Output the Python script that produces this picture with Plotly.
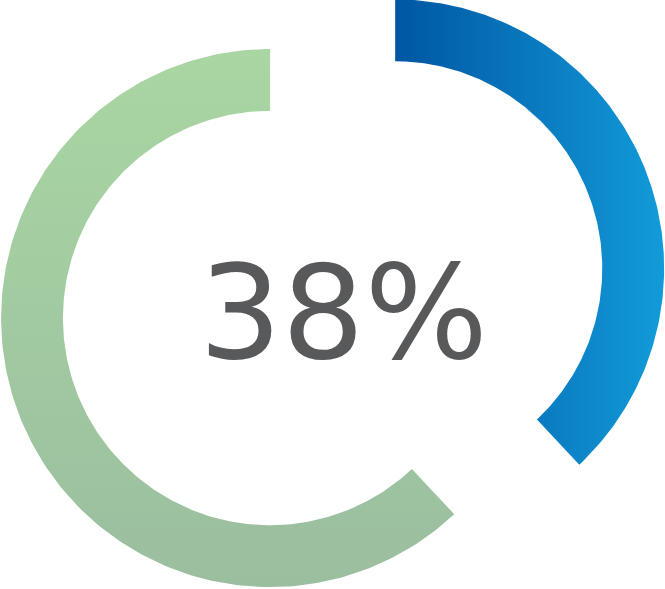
import numpy as np
import plotly.graph_objects as go

# share of the ring, clockwise from 12 o'clock
labels = ["highlight", "rest"]
values = [38, 62]
pull = [0.5, 0.0]
center_text = "38%"

HOLE = 0.77
GRADIENTS = [
    dict(type="horizontal", colorscale=[[0, "#0056a3"], [1, "#129bd9"]]),
    dict(type="vertical", colorscale=[[0, "#9bbe9f"], [1, "#a9d6a3"]]),
]


def ring_slice(a0, a1, dx, dy, n=240):
    # angles in radians, clockwise from top
    t = np.linspace(a0, a1, n)
    xo, yo = np.sin(t), np.cos(t)
    xi, yi = HOLE * np.sin(t[::-1]), HOLE * np.cos(t[::-1])
    x = np.concatenate([xo, xi, xo[:1]]) + dx
    y = np.concatenate([yo, yi, yo[:1]]) + dy
    return x, y


fig = go.Figure()
total = float(sum(values))
start = 0.0
for lab, v, p, grad in zip(labels, values, pull, GRADIENTS):
    a0 = start / total * 2 * np.pi
    a1 = (start + v) / total * 2 * np.pi
    mid = (a0 + a1) / 2
    x, y = ring_slice(a0, a1, p * np.sin(mid), p * np.cos(mid))
    fig.add_trace(go.Scatter(x=x, y=y, mode="lines", fill="toself",
                             fillgradient=grad, line=dict(width=0),
                             name=lab, hoverinfo="skip", showlegend=False))
    start += v

fig.add_annotation(x=0.274, y=0.02, text=center_text, showarrow=False,
                   font=dict(family="DejaVu Sans", size=130, color="#58595b"),
                   xanchor="center", yanchor="middle")

fig.update_xaxes(visible=False, range=[-1.004, 1.468], fixedrange=True)
fig.update_yaxes(visible=False, range=[-1.007, 1.182], fixedrange=True)
fig.update_layout(width=665, height=589, margin=dict(l=0, r=0, t=0, b=0),
                  paper_bgcolor="white", plot_bgcolor="white")
# drop the browser's default body margin so the figure sits at 0,0
fig.write_html("out.html", config={"displayModeBar": False},
               post_script="document.body.style.margin='0';")
